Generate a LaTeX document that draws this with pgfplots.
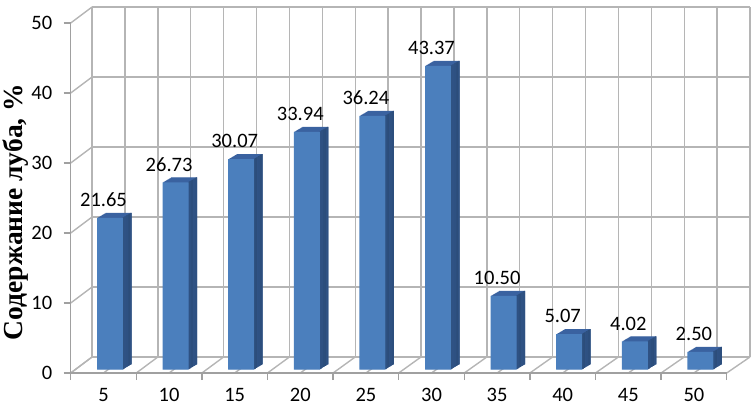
\documentclass[border=0pt]{standalone}
\usepackage{fontspec}
\setmainfont{Carlito}
\newfontfamily\tnr{Liberation Serif}
\usepackage{pgfplots}
\pgfplotsset{compat=1.18}
\usepackage{pgfplotstable}

\definecolor{barfront}{HTML}{4B7FBD}
\definecolor{barside}{HTML}{2C4D7A}
\definecolor{bartop}{HTML}{3A62A0}
\definecolor{gridc}{HTML}{B5B5B5}
\definecolor{axisc}{HTML}{A0A0A0}

% bast content, %
\pgfplotstableread{
x  y
5  21.65
10 26.73
15 30.07
20 33.94
25 36.24
30 43.37
35 10.50
40 5.07
45 4.02
50 2.50
}\lubdata

\pgfplotsset{
  barlayer/.style={scale only axis, width=656bp, height=350bp, anchor=south west,
    xmin=2.5, xmax=52.5, ymin=0, ymax=50, hide axis, clip=false},
  /pgf/number format/assume math mode=true,
}

\begin{document}
\begin{tikzpicture}
\path[use as bounding box] (0,0) rectangle (756bp,408bp);

% back wall
\begin{axis}[scale only axis, width=658bp, height=350bp, at={(92bp,51bp)}, anchor=south west,
  xmin=0, xmax=20, ymin=0, ymax=50, xtick={0,...,20}, ytick={0,10,...,50},
  xticklabels={}, yticklabels={}, major tick length=0pt,
  grid=major, grid style={draw=gridc, line width=1.4bp}, axis line style={draw=none}]
\end{axis}

% side wall and floor lines
\foreach \k in {0,...,5}
  \draw[gridc, line width=1.4bp] (70.7bp,{(35+70*\k)*1bp}) -- (92bp,{(51+70*\k)*1bp});
\foreach \j in {0,...,20}
  \draw[gridc, line width=1.4bp] ({(70.7+32.8*\j)*1bp},35bp) -- ({(92+32.9*\j)*1bp},51bp);

% front axes with ticks
\begin{axis}[scale only axis, width=656bp, height=350bp, at={(70.7bp,35bp)}, anchor=south west,
  xmin=2.5, xmax=52.5, ymin=0, ymax=50,
  axis x line*=bottom, axis y line*=left,
  axis line style={draw=axisc, line width=1.5bp},
  xtick={2.5,7.5,...,52.5}, x tick label as interval,
  xticklabels={5,10,15,20,25,30,35,40,45,50},
  ytick={0,10,...,50},
  tick align=outside, major tick length=7bp,
  tick style={draw=axisc, line width=1.5bp},
  tick label style={font=\fontsize{20.5bp}{24bp}\selectfont, text=black},
  xticklabel style={yshift=-5bp},
  yticklabel style={xshift=-8bp},
  ylabel={\tnr\bfseries Содержание луба, \%},
  every axis y label/.style={at={(axis description cs:-0.084,0.46)}, rotate=90, anchor=center,
    font=\fontsize{27.5bp}{31bp}\selectfont},
]
\end{axis}

% depth of the bars, back to front
\foreach \k in {10,9,...,1}{
  \pgfmathsetmacro\dx{70.7+0.85*\k}
  \pgfmathsetmacro\dy{38.5+0.5*\k}
  \begin{axis}[barlayer, at={(\dx bp,\dy bp)}]
    \addplot[ybar, bar width=26bp, bar shift=6.5bp, fill=bartop, draw=none] table[x=x, y=y] {\lubdata};
    \addplot[ybar, bar width=1.15bp, bar shift=18.925bp, fill=barside, draw=none] table[x=x, y=y] {\lubdata};
  \end{axis}
}

% front faces and value labels
\begin{axis}[barlayer, at={(70.7bp,38.5bp)}]
  \addplot[ybar, bar width=26bp, bar shift=6.5bp, fill=barfront, draw=none,
    nodes near coords,
    every node near coord/.append style={font=\fontsize{20.5bp}{24bp}\selectfont, text=black,
      anchor=south, inner sep=0pt, yshift=11bp},
    /pgf/number format/.cd, fixed, zerofill, precision=2] table[x=x, y=y] {\lubdata};
\end{axis}
\end{tikzpicture}
\end{document}
